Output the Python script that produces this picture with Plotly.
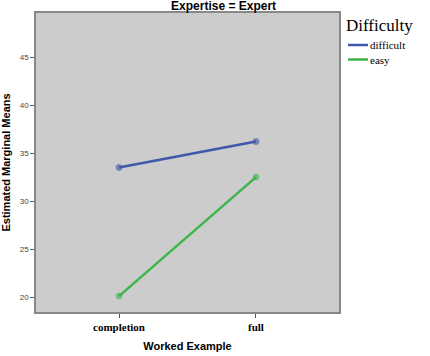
import plotly.graph_objects as go

categories = ["completion", "full"]
difficult = [33.5, 36.2]
easy = [20.1, 32.5]
series_names = ["difficult", "easy"]
y_ticks = [20, 25, 30, 35, 40, 45]
legend_title = "Difficulty"

colors = ["#3F58AA", "#3DB54A"]

fig = go.Figure()
for name, vals, c in zip(series_names, [difficult, easy], colors):
    fig.add_trace(go.Scatter(
        x=categories, y=vals, name=name, mode="lines+markers",
        line=dict(color=c, width=2.5),
        marker=dict(size=6, color=c, opacity=0.6, line=dict(color=c, width=1)),
        showlegend=False,
    ))

W, H = 430, 356
L, R, T, B = 36, 91, 13, 44
pw = W - L - R
ph = H - T - B

def px(x):
    return (x - L) / pw

def py(y):
    return 1 - (y - T) / ph

annotations = [dict(text=legend_title, xref="paper", yref="paper", x=px(344), y=py(26),
                    xanchor="left", yanchor="middle", showarrow=False,
                    font=dict(family="Liberation Serif", size=17, color="black"))]
shapes = []
for i, (name, c) in enumerate(zip(series_names, colors)):
    yy = 45 + i * 14.5
    shapes.append(dict(type="line", xref="paper", yref="paper", x0=px(348), x1=px(368),
                       y0=py(yy), y1=py(yy), line=dict(color=c, width=2.5)))
    annotations.append(dict(text=name, xref="paper", yref="paper", x=px(368), y=py(yy),
                            xanchor="left", yanchor="middle", showarrow=False,
                            font=dict(family="Liberation Serif", size=11, color="black")))

fig.update_layout(
    width=W, height=H,
    margin=dict(l=L, r=R, t=T, b=B, autoexpand=False),
    paper_bgcolor="white", plot_bgcolor="#CCCCCC",
    title=dict(text="<b>Expertise = Expert</b>", x=0.52, xanchor="center",
               y=0.995, yanchor="top",
               font=dict(family="Liberation Sans, Arial", size=12, color="black")),
    showlegend=False,
    annotations=annotations, shapes=shapes,
    font=dict(family="Liberation Sans, Arial"),
)
fig.update_xaxes(
    range=[-0.606, 1.606], showgrid=False, zeroline=False, automargin=False,
    ticks="outside", ticklen=4, tickcolor="#555", tickwidth=1,
    tickfont=dict(family="Liberation Serif", size=11, color="black"),
    tickprefix="<b>", ticksuffix="</b>",
    title=dict(text="<b>Worked Example</b>", font=dict(family="Liberation Sans, Arial", size=11, color="black"), standoff=10),
    showline=True, linecolor="#888888", linewidth=1.5, mirror=True,
)
fig.update_yaxes(
    range=[18.44, 49.6], tickvals=y_ticks, showgrid=False, zeroline=False, automargin=False,
    ticks="outside", ticklen=4, tickcolor="#555", tickwidth=1,
    tickfont=dict(family="Liberation Sans, Arial", size=8, color="#444"),
    title=dict(text="<b>Estimated Marginal Means</b>", font=dict(family="Liberation Sans, Arial", size=11, color="black"), standoff=10),
    showline=True, linecolor="#888888", linewidth=1.5, mirror=True,
)

fig.write_html("out.html")
